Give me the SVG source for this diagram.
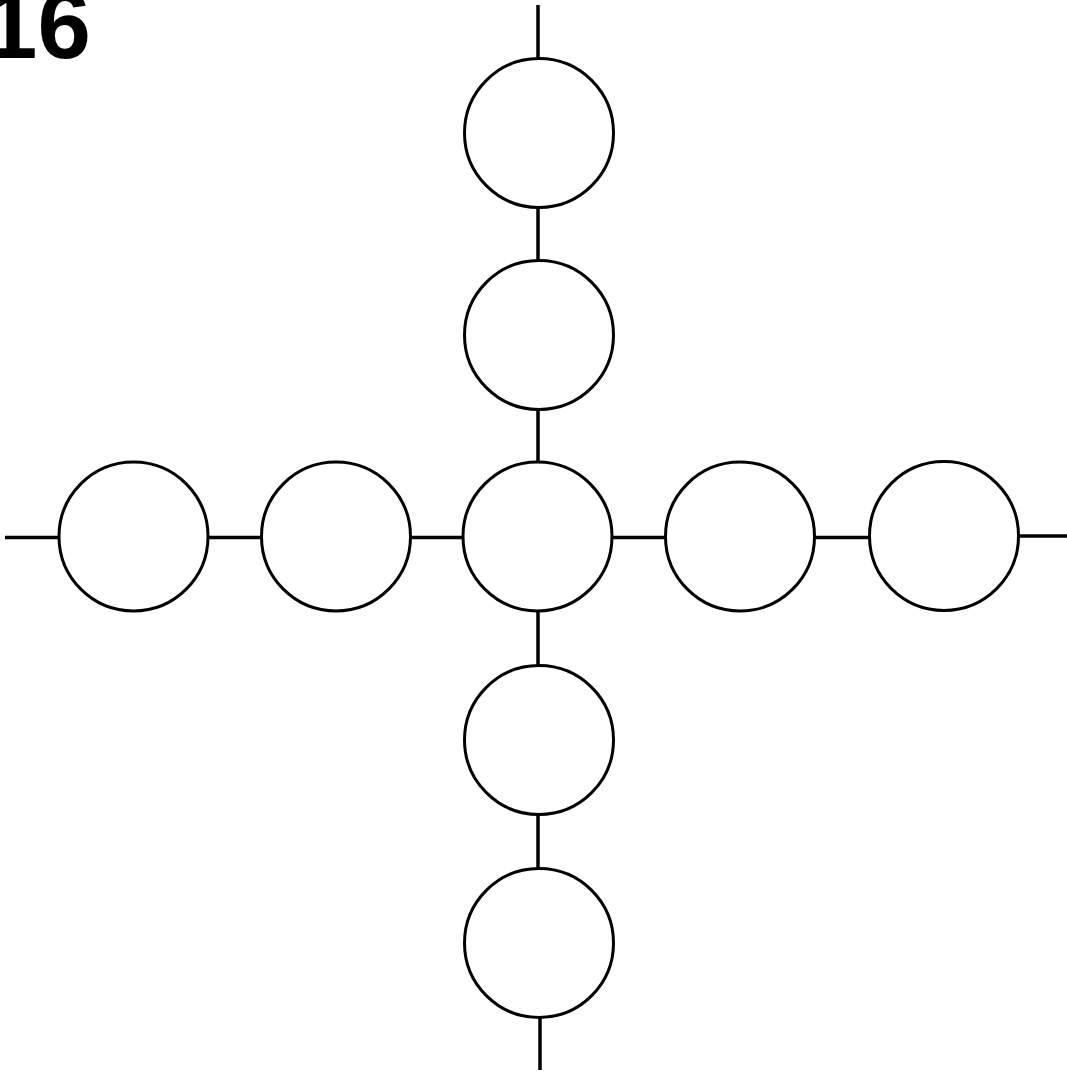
<svg xmlns="http://www.w3.org/2000/svg" width="1067" height="1072" viewBox="0 0 1067 1072">
<style>
.n{fill:#fff;stroke:#000;stroke-width:3}
.e{stroke:#000;stroke-width:3.5;fill:none}
</style>
<defs>
<path id="c" d="M-74.5,0 A74.5,74.5 0 0 1 0,-74.5 A74.5,74.5 0 0 1 74.5,0 A74.5,74.5 0 0 1 0,74.5 A74.5,74.5 0 0 1 -74.5,0 Z"/>
</defs>
<rect width="1067" height="1072" fill="#fff"/>
<text x="-16" y="58" font-family="Liberation Sans, Arial, Helvetica, sans-serif" font-weight="700" font-size="96" fill="#000">16</text>
<g id="connectors">
<line class="e" x1="538" y1="5" x2="538" y2="58"/>
<line class="e" x1="538" y1="208" x2="538" y2="260"/>
<line class="e" x1="538" y1="410" x2="538" y2="462"/>
<line class="e" x1="538" y1="612" x2="538" y2="665"/>
<line class="e" x1="538" y1="815" x2="538" y2="868"/>
<line class="e" x1="540" y1="1018" x2="540" y2="1070"/>
<line class="e" x1="5" y1="537.5" x2="58" y2="537.5"/>
<line class="e" x1="209" y1="537.5" x2="261" y2="537.5"/>
<line class="e" x1="411" y1="537.5" x2="463" y2="537.5"/>
<line class="e" x1="612" y1="537.5" x2="666" y2="537.5"/>
<line class="e" x1="815" y1="537.5" x2="869" y2="537.5"/>
<line class="e" x1="1019" y1="536" x2="1067" y2="536"/>
</g>
<g id="n1"><use href="#c" class="n" x="539" y="133"/></g>
<g id="n2"><use href="#c" class="n" x="539" y="335"/></g>
<g id="n3"><use href="#c" class="n" x="537.5" y="536.5"/></g>
<g id="n4"><use href="#c" class="n" x="539" y="740"/></g>
<g id="n5"><use href="#c" class="n" x="539" y="943"/></g>
<g id="n6"><use href="#c" class="n" x="133.5" y="536.5"/></g>
<g id="n7"><use href="#c" class="n" x="336" y="536.5"/></g>
<g id="n8"><use href="#c" class="n" x="740" y="536.5"/></g>
<g id="n9"><use href="#c" class="n" x="944" y="536"/></g>
</svg>
